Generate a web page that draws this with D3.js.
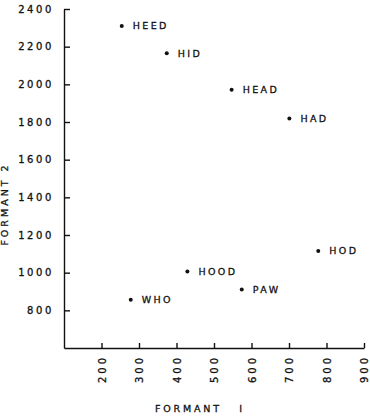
<!DOCTYPE html>
<html>
<head>
<meta charset="utf-8">
<script src="https://cdnjs.cloudflare.com/ajax/libs/d3/7.8.5/d3.min.js"></script>
<style>
  body { margin: 0; background: white; }
  text { font-family: "DejaVu Sans", Arial, sans-serif; fill: #111; stroke: #111; stroke-width: 0.3px; }
</style>
</head>
<body>
<div id="chart"></div>
<script>
// data
var words = ["HEED", "HID", "HEAD", "HAD", "HOD", "HOOD", "PAW", "WHO"];
var formant1 = [254, 374, 547, 701, 778, 429, 574, 278];
var formant2 = [2310, 2165, 1971, 1818, 1115, 1006, 911, 856];

var xTicks = [200, 300, 400, 500, 600, 700, 800, 900];
var yTicks = [800, 1000, 1200, 1400, 1600, 1800, 2000, 2200, 2400];

var W = 370, H = 417;
var plotLeft = 64, plotRight = 364, plotTop = 9, plotBottom = 348;

var svg = d3.select("#chart").append("svg")
    .attr("width", W)
    .attr("height", H);

var x = d3.scaleLinear().domain([100, 900]).range([plotLeft, plotRight]);
var y = d3.scaleLinear().domain([600, 2400]).range([plotBottom, plotTop]);

// y axis, ticks pointing inwards
var yAxis = svg.append("g")
    .attr("transform", "translate(" + plotLeft + ",0)")
    .call(d3.axisLeft(y)
      .tickValues(yTicks)
      .tickSizeInner(-6)
      .tickSizeOuter(0)
      .tickPadding(10)
      .tickFormat(d3.format("d")));

yAxis.selectAll("text")
    .attr("font-size", "10px")
    .attr("letter-spacing", "2.6px")
    .attr("font-family", "DejaVu Sans, Arial, sans-serif");

// x axis, labels turned on their side
var xAxis = svg.append("g")
    .attr("transform", "translate(0," + plotBottom + ")")
    .call(d3.axisBottom(x)
      .tickValues(xTicks)
      .tickSizeInner(-5)
      .tickSizeOuter(0)
      .tickFormat(d3.format("d")));

xAxis.selectAll("text")
    .attr("font-size", "10px")
    .attr("letter-spacing", "3px")
    .attr("font-family", "DejaVu Sans, Arial, sans-serif")
    .attr("transform", "rotate(-90)")
    .attr("text-anchor", "end")
    .attr("x", -7)
    .attr("y", 0)
    .attr("dy", "0.35em");

svg.selectAll(".domain, .tick line")
    .attr("stroke", "#111")
    .attr("stroke-width", 1.4);

// points
var pts = svg.append("g");
pts.selectAll("circle")
    .data(words)
    .join("circle")
    .attr("cx", function(d, i) { return x(formant1[i]); })
    .attr("cy", function(d, i) { return y(formant2[i]); })
    .attr("r", 2)
    .attr("fill", "#111");

pts.selectAll("text")
    .data(words)
    .join("text")
    .attr("x", function(d, i) { return x(formant1[i]) + 11; })
    .attr("y", function(d, i) { return y(formant2[i]); })
    .attr("dy", "0.35em")
    .attr("font-size", "9.5px")
    .attr("letter-spacing", "2.4px")
    .text(function(d) { return d; });

// axis titles
svg.append("text")
    .attr("x", 155)
    .attr("y", 412)
    .attr("font-size", "9.5px")
    .attr("letter-spacing", "2.8px")
    .attr("xml:space", "preserve")
    .text("FORMANT   I");

svg.append("text")
    .attr("transform", "translate(8,204) rotate(-90)")
    .attr("text-anchor", "middle")
    .attr("font-size", "9.5px")
    .attr("letter-spacing", "3px")
    .attr("xml:space", "preserve")
    .text("FORMANT 2");
</script>
</body>
</html>
